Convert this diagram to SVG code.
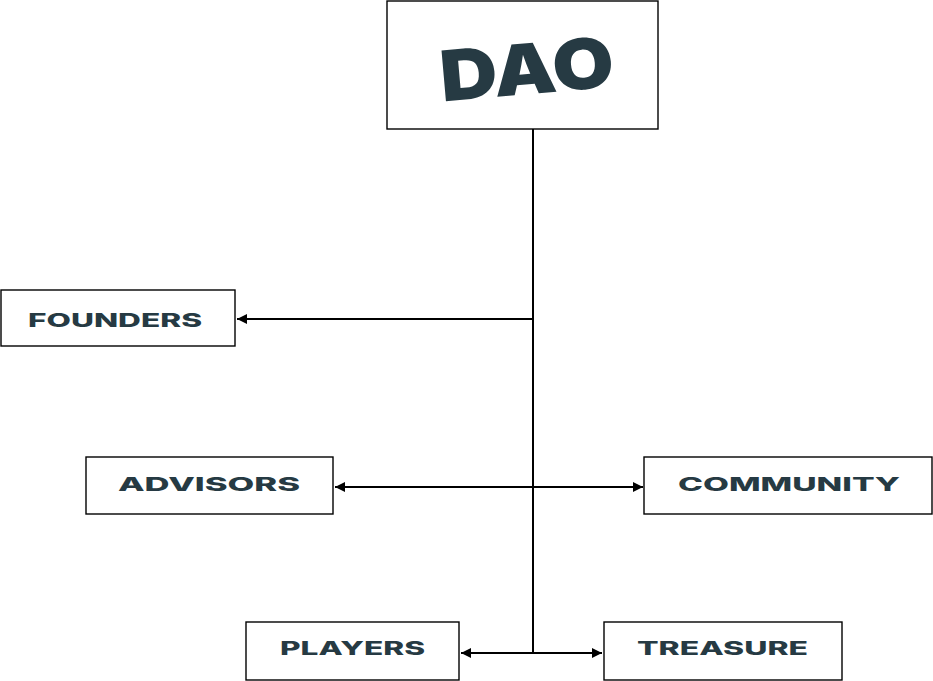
<svg xmlns="http://www.w3.org/2000/svg" width="933" height="681" viewBox="0 0 933 681">
<defs>
<style>
.box{fill:#ffffff;stroke:#000000;stroke-width:1.4}
.lbl{font-family:Inter,"Liberation Sans",Arial,sans-serif;font-weight:800;font-size:18.5px;fill:#263a43}
.con{stroke:#000000;stroke-width:2;fill:none}
</style>
<marker id="ah" viewBox="0 0 10 10" refX="10" refY="5" markerWidth="5" markerHeight="5" orient="auto-start-reverse" markerUnits="strokeWidth">
<path d="M0,0 L10,5 L0,10 z" fill="#000000"/>
</marker>
</defs>
<rect width="933" height="681" fill="#ffffff"/>
<g id="connectors">
<line class="con" x1="533" y1="129" x2="533" y2="654"/>
<line class="con" x1="533" y1="319" x2="237" y2="319" marker-end="url(#ah)"/>
<line class="con" x1="335" y1="487" x2="643" y2="487" marker-start="url(#ah)" marker-end="url(#ah)"/>
<line class="con" x1="461" y1="653" x2="602" y2="653" marker-start="url(#ah)" marker-end="url(#ah)"/>
</g>
<g id="dao">
<rect class="box" x="387" y="1" width="271" height="128"/>
<text x="529" y="94" text-anchor="middle" transform="rotate(-5 529 94)" textLength="174" lengthAdjust="spacingAndGlyphs" style="font-family:Inter,'Liberation Sans',Arial,sans-serif;font-weight:900;font-size:70px;fill:#263a43">DAO</text>
</g>
<g id="founders">
<rect class="box" x="1" y="290" width="234" height="56"/>
<text class="lbl" x="28" y="326.5" textLength="174" lengthAdjust="spacingAndGlyphs">FOUNDERS</text>
</g>
<g id="advisors">
<rect class="box" x="86" y="457" width="247" height="57"/>
<text class="lbl" x="118" y="490.5" textLength="182" lengthAdjust="spacingAndGlyphs">ADVISORS</text>
</g>
<g id="community">
<rect class="box" x="644" y="457" width="288" height="57"/>
<text class="lbl" x="678" y="490.5" textLength="222" lengthAdjust="spacingAndGlyphs">COMMUNITY</text>
</g>
<g id="players">
<rect class="box" x="246" y="622" width="213" height="58"/>
<text class="lbl" x="280" y="655" textLength="145" lengthAdjust="spacingAndGlyphs">PLAYERS</text>
</g>
<g id="treasure">
<rect class="box" x="604" y="622" width="238" height="58"/>
<text class="lbl" x="637" y="655" textLength="171" lengthAdjust="spacingAndGlyphs">TREASURE</text>
</g>
</svg>
